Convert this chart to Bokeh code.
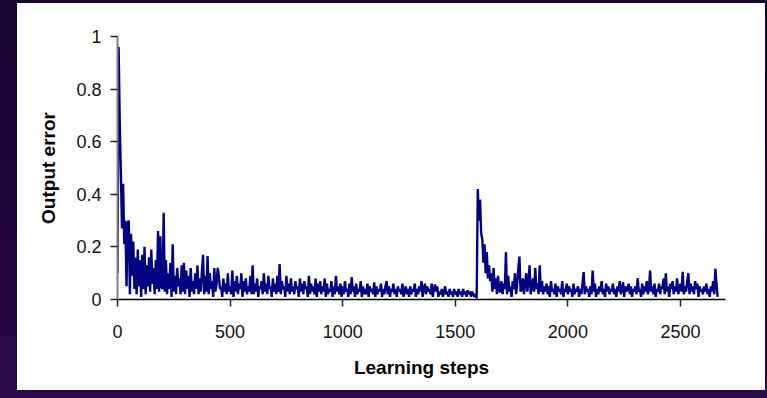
from bokeh.plotting import figure
from bokeh.models import FixedTicker, GlobalInlineStyleSheet, Range1d
from bokeh.embed import file_html
from bokeh.resources import INLINE

# sampling interval (learning steps between stored values)
STEP = 5

# Output error, steps 0..495
err_0000 = [
    0.10, 0.96, 0.67, 0.48, 0.27, 0.44, 0.21, 0.30, 0.05, 0.29, 0.30, 0.02, 0.25, 0.09, 0.22, 0.04, 0.16, 0.02, 0.19, 0.05,
    0.15, 0.01, 0.17, 0.04, 0.20, 0.02, 0.13, 0.05, 0.16, 0.03, 0.19, 0.06, 0.12, 0.02, 0.15, 0.04, 0.26, 0.03, 0.24, 0.05,
    0.04, 0.33, 0.03, 0.15, 0.02, 0.10, 0.04, 0.14, 0.01, 0.21, 0.03, 0.09, 0.02, 0.12, 0.05, 0.08, 0.02, 0.13, 0.03, 0.14,
    0.02, 0.11, 0.04, 0.09, 0.01, 0.12, 0.03, 0.07, 0.02, 0.10, 0.04, 0.13, 0.02, 0.08, 0.03, 0.11, 0.17, 0.02, 0.09, 0.03,
    0.165, 0.02, 0.10, 0.04, 0.07, 0.01, 0.12, 0.03, 0.06, 0.12, 0.09, 0.04, 0.05, 0.01, 0.08, 0.03, 0.06, 0.02, 0.10, 0.03,
]
# steps 500..995
err_0500 = [
    0.05, 0.02, 0.11, 0.01, 0.07, 0.03, 0.09, 0.02, 0.06, 0.04, 0.10, 0.01, 0.07, 0.03, 0.08, 0.02, 0.05, 0.03, 0.09, 0.02,
    0.13, 0.02, 0.06, 0.03, 0.08, 0.01, 0.05, 0.04, 0.07, 0.02, 0.10, 0.03, 0.06, 0.02, 0.09, 0.04, 0.05, 0.01, 0.08, 0.03,
    0.06, 0.02, 0.09, 0.03, 0.135, 0.02, 0.07, 0.04, 0.05, 0.01, 0.09, 0.03, 0.06, 0.02, 0.08, 0.03, 0.05, 0.02, 0.07, 0.04,
    0.05, 0.01, 0.08, 0.03, 0.06, 0.02, 0.07, 0.04, 0.05, 0.01, 0.09, 0.02, 0.06, 0.03, 0.05, 0.02, 0.08, 0.01, 0.06, 0.03,
    0.07, 0.02, 0.05, 0.03, 0.08, 0.01, 0.06, 0.02, 0.04, 0.03, 0.07, 0.01, 0.05, 0.02, 0.09, 0.03, 0.05, 0.02, 0.06, 0.01,
]
# steps 1000..1495
err_1000 = [
    0.05, 0.02, 0.07, 0.03, 0.04, 0.01, 0.06, 0.02, 0.085, 0.03, 0.05, 0.01, 0.06, 0.02, 0.04, 0.03, 0.07, 0.01, 0.05, 0.02,
    0.04, 0.02, 0.06, 0.01, 0.05, 0.03, 0.04, 0.02, 0.065, 0.01, 0.05, 0.02, 0.04, 0.03, 0.06, 0.01, 0.04, 0.02, 0.05, 0.07,
    0.02, 0.05, 0.01, 0.04, 0.03, 0.06, 0.02, 0.04, 0.01, 0.05, 0.03, 0.04, 0.02, 0.06, 0.01, 0.03, 0.05, 0.02, 0.04, 0.01,
    0.05, 0.02, 0.04, 0.03, 0.06, 0.01, 0.04, 0.02, 0.05, 0.03, 0.07, 0.01, 0.04, 0.06, 0.02, 0.05, 0.03, 0.04, 0.02, 0.06,
    0.01, 0.04, 0.057, 0.03, 0.05, 0.01, 0.03, 0.02, 0.04, 0.01, 0.03, 0.05, 0.02, 0.03, 0.01, 0.04, 0.02, 0.03, 0.01, 0.04,
]
# steps 1500..1995
err_1500 = [
    0.02, 0.03, 0.01, 0.04, 0.02, 0.03, 0.01, 0.04, 0.02, 0.03, 0.01, 0.035, 0.02, 0.03, 0.01, 0.03, 0.02, 0.01, 0.02, 0.005,
    0.42, 0.30, 0.38, 0.25, 0.23, 0.14, 0.21, 0.10, 0.18, 0.08, 0.13, 0.07, 0.10, 0.03, 0.12, 0.04, 0.08, 0.02, 0.09, 0.03,
    0.03, 0.07, 0.02, 0.06, 0.04, 0.18, 0.02, 0.09, 0.03, 0.05, 0.01, 0.07, 0.04, 0.10, 0.02, 0.06, 0.12, 0.163, 0.03, 0.04,
    0.08, 0.02, 0.06, 0.10, 0.03, 0.07, 0.13, 0.02, 0.05, 0.08, 0.03, 0.12, 0.04, 0.06, 0.02, 0.13, 0.03, 0.07, 0.02, 0.05,
    0.03, 0.06, 0.02, 0.05, 0.01, 0.07, 0.03, 0.04, 0.02, 0.06, 0.01, 0.05, 0.03, 0.04, 0.02, 0.07, 0.01, 0.04, 0.03, 0.06,
]
# steps 2000..2495
err_2000 = [
    0.02, 0.05, 0.03, 0.04, 0.01, 0.06, 0.02, 0.04, 0.03, 0.05, 0.01, 0.04, 0.02, 0.06, 0.104, 0.02, 0.05, 0.03, 0.04, 0.01,
    0.05, 0.02, 0.11, 0.03, 0.06, 0.01, 0.04, 0.02, 0.05, 0.03, 0.07, 0.02, 0.04, 0.01, 0.06, 0.03, 0.05, 0.02, 0.04, 0.03,
    0.06, 0.02, 0.04, 0.01, 0.05, 0.03, 0.07, 0.02, 0.04, 0.066, 0.01, 0.05, 0.03, 0.04, 0.06, 0.02, 0.05, 0.01, 0.04, 0.03,
    0.05, 0.02, 0.081, 0.03, 0.04, 0.01, 0.06, 0.02, 0.05, 0.03, 0.07, 0.02, 0.04, 0.11, 0.03, 0.05, 0.02, 0.06, 0.01, 0.04,
    0.03, 0.06, 0.02, 0.05, 0.04, 0.08, 0.02, 0.10, 0.03, 0.05, 0.01, 0.06, 0.04, 0.07, 0.02, 0.05, 0.03, 0.08, 0.02, 0.04,
]
# steps 2500..2665
err_2500 = [
    0.06, 0.03, 0.105, 0.02, 0.05, 0.03, 0.07, 0.10, 0.02, 0.06, 0.03, 0.05, 0.02, 0.07, 0.04, 0.06, 0.01, 0.05, 0.03, 0.04,
    0.02, 0.05, 0.03, 0.06, 0.02, 0.04, 0.01, 0.05, 0.03, 0.07, 0.02, 0.117, 0.06, 0.01,
]

output_error = err_0000 + err_0500 + err_1000 + err_1500 + err_2000 + err_2500
steps = [i * STEP for i in range(len(output_error))]

x_ticks = [0, 500, 1000, 1500, 2000, 2500]
y_ticks = [0, 0.2, 0.4, 0.6, 0.8, 1]
y_tick_labels = ["0", "0.2", "0.4", "0.6", "0.8", "1"]
x_label = "Learning steps"
y_label = "Output error"

page_css = GlobalInlineStyleSheet(css="""
html, body { background: linear-gradient(#180530, #2a0848) fixed; }
body { margin: 3px 0 0 17px !important; }
""")

p = figure(width=748, height=387, output_backend="svg", toolbar_location=None,
           x_range=Range1d(0, 2700), y_range=Range1d(0, 1),
           min_border_left=100, min_border_right=40,
           min_border_top=33, min_border_bottom=91,
           background_fill_color="white", border_fill_color="white",
           outline_line_color=None)
p.stylesheets = [page_css]
p.styles = {"background-color": "white"}

p.line(steps, output_error, line_color="#000080", line_width=2.4)

p.xgrid.visible = False
p.ygrid.visible = False

FONT = "Liberation Sans"

p.xaxis.ticker = FixedTicker(ticks=x_ticks)
p.yaxis.ticker = FixedTicker(ticks=y_ticks)
p.yaxis.major_label_overrides = {t: s for t, s in zip(y_ticks, y_tick_labels)}
p.xaxis.major_label_overrides = {t: str(t) for t in x_ticks}

for ax in (p.xaxis, p.yaxis):
    ax.minor_tick_line_color = None
    ax.major_tick_in = 0
    ax.major_tick_out = 7
    ax.major_tick_line_width = 1.5
    ax.major_tick_line_color = "#222222"
    ax.major_label_text_font = FONT
    ax.major_label_text_font_size = "18px"
    ax.major_label_text_color = "#111111"
    ax.axis_label_text_font = FONT
    ax.axis_label_text_font_size = "19px"
    ax.axis_label_text_font_style = "bold"
    ax.axis_label_text_color = "#000000"

p.xaxis.axis_label = x_label
p.yaxis.axis_label = y_label
p.xaxis.axis_line_color = "#000000"
p.xaxis.axis_line_width = 1.5
p.yaxis.axis_line_color = "#808080"
p.yaxis.axis_line_width = 2
p.xaxis.major_label_standoff = 18
p.yaxis.major_label_standoff = 9
p.xaxis.axis_label_standoff = 16
p.yaxis.axis_label_standoff = 14

open("out.html", "w").write(file_html(p, INLINE))
